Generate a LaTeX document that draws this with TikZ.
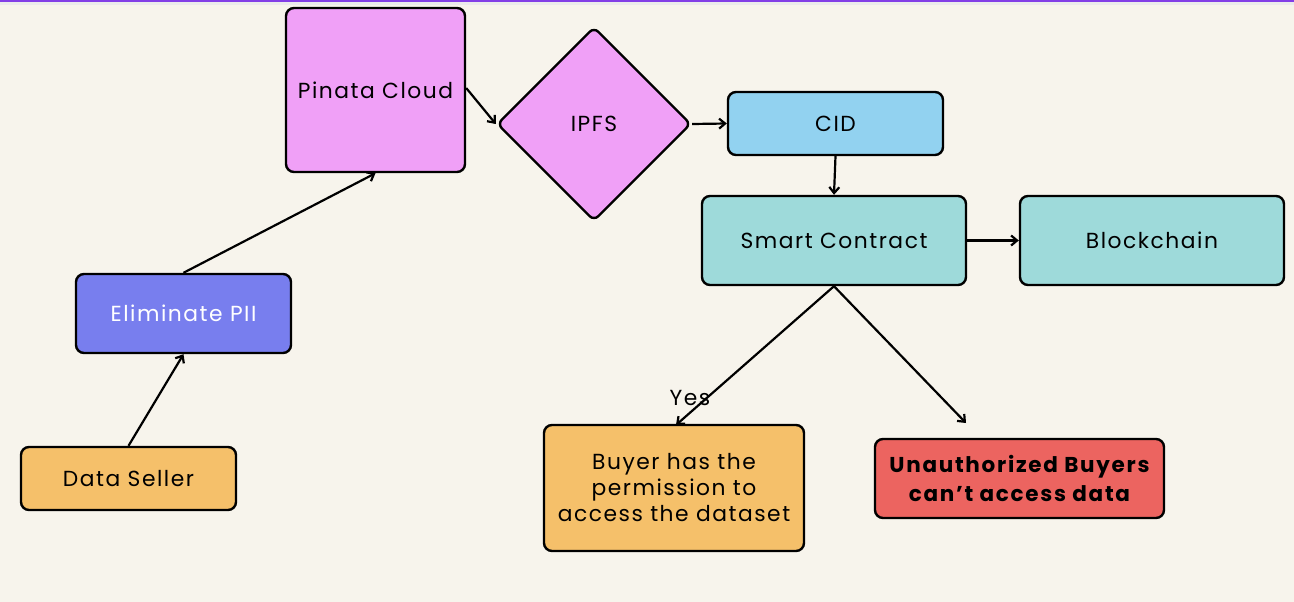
\documentclass[tikz,border=0pt]{standalone}
\usepackage{fontspec}
\setmainfont{Poppins}[LetterSpace=7]
\newfontfamily\boldpop{Poppins}[LetterSpace=8]
\usetikzlibrary{shapes.geometric,arrows.meta}
\definecolor{bg}{RGB}{247,244,236}
\definecolor{topline}{RGB}{130,62,230}
\definecolor{pinkc}{RGB}{240,160,247}
\definecolor{cidc}{RGB}{146,210,240}
\definecolor{tealc}{RGB}{158,218,218}
\definecolor{elimc}{RGB}{120,126,238}
\definecolor{orangec}{RGB}{245,192,106}
\definecolor{redc}{RGB}{236,100,96}
\tikzset{
  box/.style={draw=black, line width=2.4pt, rounded corners=8pt, inner sep=0pt, align=center, font=\fontsize{21.8}{26}\selectfont},
  conn/.style={draw=black, line width=2.2pt, -{Straight Barb[length=6pt,width=10pt,line width=2.2pt]}},
}
\begin{document}
\begin{tikzpicture}[x=1pt,y=-1pt]
\fill[bg] (0,0) rectangle (1294,602);
\useasboundingbox (0,0) rectangle (1294,602);
\fill[black!8] (0,2) rectangle (1294,5);
\fill[topline] (0,0) rectangle (1294,2.2);
\node[box, fill=pinkc, minimum width=179, minimum height=164] (pinata) at (375.5,90) {Pinata Cloud};
\node[box, diamond, aspect=1, fill=pinkc, minimum width=194, minimum height=194, rounded corners=6pt] (ipfs) at (594,124) {IPFS};
\node[box, fill=cidc, minimum width=215, minimum height=63] (cid) at (835.5,123.5) {CID};
\node[box, fill=tealc, minimum width=264, minimum height=89] (smart) at (834,240.5) {Smart Contract};
\node[box, fill=tealc, minimum width=264, minimum height=89] (chain) at (1152,240.5) {Blockchain};
\node[box, fill=elimc, text=white, minimum width=215, minimum height=79] (elim) at (183.5,313.5) {Eliminate PII};
\node[box, fill=orangec, minimum width=215, minimum height=63] (seller) at (128.5,478.5) {Data Seller};
\node[box, fill=orangec, minimum width=260, minimum height=126] (buyer) at (674,488) {Buyer has the\\permission to\\access the dataset};
\node[box, fill=redc, minimum width=289, minimum height=79, font=\boldpop\fontsize{21.5}{29}\selectfont\bfseries] (unauth) at (1019.5,478.5) {Unauthorized Buyers\\can’t access data};
\coordinate (yesend) at (676,425);
\coordinate (noend) at (966,423);
\node[font=\fontsize{21.8}{24}\selectfont, inner sep=0pt] (yes) at (690,398) {Yes};
\draw[conn] (seller.north) -- (elim.south);
\draw[conn] (elim.north) -- (pinata.south);
\draw[conn] (pinata.east |- 0,88) -- (ipfs.west);
\draw[conn] (ipfs.east) -- (cid.west);
\draw[conn] (cid.south) -- (smart.north);
\draw[conn] (smart.east) -- (chain.west);
\draw[conn] (smart.south) -- (yesend);
\draw[conn] (smart.south) -- (noend);
\end{tikzpicture}
\end{document}
